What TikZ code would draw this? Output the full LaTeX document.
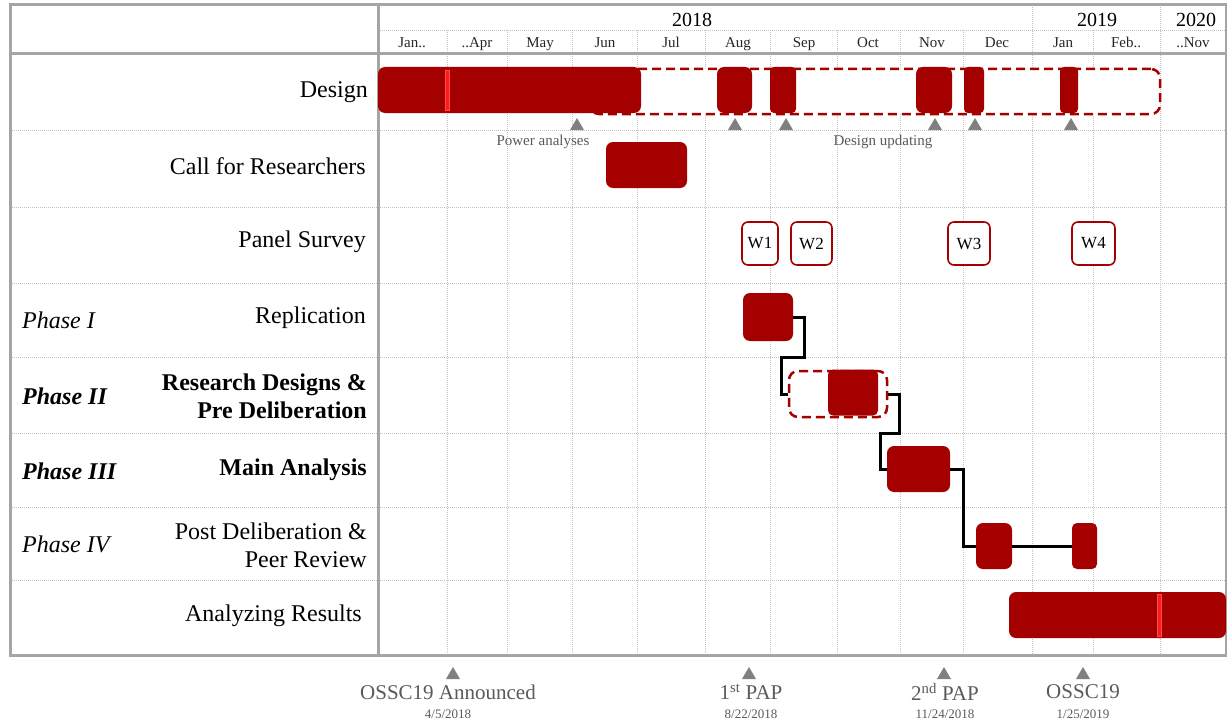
\documentclass[tikz,border=0pt]{standalone}
\usepackage{fontspec}
\setmainfont{Liberation Serif}
\usetikzlibrary{fit}
\definecolor{barred}{RGB}{165,0,0}
\definecolor{stripered}{RGB}{255,25,25}
\definecolor{framegray}{RGB}{165,165,165}
\definecolor{gridgray}{RGB}{195,195,195}
\definecolor{markgray}{RGB}{128,128,128}
\definecolor{notegray}{RGB}{90,90,90}
\newcommand\mtri[2]{\fill[markgray] (#1-7,#2) -- (#1+7,#2) -- (#1,#2-12) -- cycle;}
\begin{document}
\begin{tikzpicture}[x=1pt,y=-1pt,
  solidbar/.style={fill=barred, draw=none, rounded corners=7pt, inner sep=0pt},
  dashbar/.style={draw=barred, line width=2.5pt, dash pattern=on 9pt off 5pt, rounded corners=9pt, fill=white, inner sep=0pt},
  wavebox/.style={draw=barred, line width=1.6pt, fill=white, rounded corners=6pt, inner sep=0pt, font=\fontsize{17}{17}\selectfont},
  conn/.style={line width=3pt, black},
  gridline/.style={gridgray, line width=0.8pt, dash pattern=on 1pt off 1pt},
  frameline/.style={framegray, line width=3pt},
  rowlab/.style={anchor=east, inner sep=0pt, align=right, font=\fontsize{24}{28}\selectfont},
  phaselab/.style={anchor=west, inner sep=0pt, font=\fontsize{24}{28}\selectfont\itshape},
  monthlab/.style={anchor=base, inner sep=0pt, font=\fontsize{15}{15}\selectfont, text=black!85},
  yearlab/.style={anchor=base, inner sep=0pt, font=\fontsize{20}{20}\selectfont},
  smallnote/.style={inner sep=0pt, font=\fontsize{15}{15}\selectfont, text=notegray},
  milelab/.style={inner sep=0pt, font=\fontsize{21}{21}\selectfont, text=notegray},
  datelab/.style={inner sep=0pt, font=\fontsize{13}{13}\selectfont, text=notegray},
  stripe/.style={fill=stripered, draw=red!70!white, line width=0.6pt}
]
\useasboundingbox (0,0) rectangle (1227,725);
\fill[white] (0,0) rectangle (1227,725);

% grid
\foreach \y in {130,207,283,357,433,507,580}
  \draw[gridline] (10,\y) -- (1226,\y);
\draw[gridline] (378,30) -- (1226,30);
\foreach \x in {447,507,572,637,705,770,837,900,963,1093}
  \draw[gridline] (\x,30) -- (\x,655);
\foreach \x in {1032,1160}
  \draw[gridline] (\x,5) -- (\x,655);

% frame
\draw[frameline] (10,5) rectangle (1226,655);
\draw[frameline] (10,54) -- (1226,54);
\draw[frameline] (378,5) -- (378,655);

% header
\node[yearlab] (y2018) at (692,27) {2018};
\node[yearlab] (y2019) at (1097,27) {2019};
\node[yearlab] (y2020) at (1196,27) {2020};
\node[monthlab] (m1) at (412,48) {Jan..};
\node[monthlab] (m2) at (477,48) {..Apr};
\node[monthlab] (m3) at (540,48) {May};
\node[monthlab] (m4) at (605,48) {Jun};
\node[monthlab] (m5) at (671,48) {Jul};
\node[monthlab] (m6) at (738,48) {Aug};
\node[monthlab] (m7) at (804,48) {Sep};
\node[monthlab] (m8) at (868,48) {Oct};
\node[monthlab] (m9) at (932,48) {Nov};
\node[monthlab] (m10) at (997,48) {Dec};
\node[monthlab] (m11) at (1063,48) {Jan};
\node[monthlab] (m12) at (1126,48) {Feb..};
\node[monthlab] (m13) at (1193,48) {..Nov};

% row labels
\node[rowlab] (lDesign) at (368,92) {Design};
\node[rowlab] (lCall) at (366,166) {Call for Researchers};
\node[rowlab] (lPanel) at (366,242) {Panel Survey};
\node[rowlab] (lRep) at (366,318) {Replication};
\node[rowlab, font=\fontsize{24}{28}\selectfont\bfseries] (lRD) at (367,396) {Research Designs \&\\Pre Deliberation};
\node[rowlab, font=\fontsize{24}{28}\selectfont\bfseries] (lMain) at (367,470) {Main Analysis};
\node[rowlab] (lPost) at (367,545) {Post Deliberation \&\\Peer Review};
\node[rowlab] (lAna) at (362,616) {Analyzing Results};
\node[phaselab] (p1) at (22,320) {Phase I};
\node[phaselab, font=\fontsize{24}{28}\selectfont\itshape\bfseries] (p2) at (22,396) {Phase II};
\node[phaselab, font=\fontsize{24}{28}\selectfont\itshape\bfseries] (p3) at (22,471) {Phase III};
\node[phaselab] (p4) at (22,544) {Phase IV};

% Design row
\node[dashbar, fit={(590,69) (1160,114)}] (dDash) {};
\node[solidbar, fit={(378,67) (641,113)}] (d1) {};
\draw[stripe] (445,70) rectangle (449,110);
\node[solidbar, fit={(717,67) (752,113)}] (d2) {};
\node[solidbar, rounded corners=4pt, fit={(770,67) (796,113)}] (d3) {};
\node[solidbar, fit={(916,67) (952,113)}] (d4) {};
\node[solidbar, rounded corners=4pt, fit={(964,67) (984,113)}] (d5) {};
\node[solidbar, rounded corners=4pt, fit={(1060,67) (1078,113)}] (d6) {};
\mtri{577}{130}
\mtri{735}{130}
\mtri{786}{130}
\mtri{935}{130}
\mtri{975}{130}
\mtri{1071}{130}
\node[smallnote] (nPower) at (543,142) {Power analyses};
\node[smallnote] (nUpd) at (883,142) {Design updating};

% Call for researchers
\node[solidbar, fit={(606,142) (687,188)}] (call) {};

% Panel survey
\node[wavebox, fit={(742,222) (778,265)}] (w1) {};
\node at (w1.center) {\fontsize{17}{17}\selectfont W1};
\node[wavebox, fit={(791,222) (832,265)}] (w2) {};
\node at (w2.center) {\fontsize{17}{17}\selectfont W2};
\node[wavebox, fit={(948,222) (990,265)}] (w3) {};
\node at (w3.center) {\fontsize{17}{17}\selectfont W3};
\node[wavebox, fit={(1072,222) (1115,265)}] (w4) {};
\node at (w4.center) {\fontsize{17}{17}\selectfont W4};

% Phases
\node[solidbar, fit={(743,293) (793,341)}] (rep) {};
\node[dashbar, fit={(789,371) (887,417)}] (rdDash) {};
\node[solidbar, rounded corners=5pt, fit={(828,369.5) (878,415.5)}] (rd) {};
\node[solidbar, fit={(887,446) (950,492)}] (main) {};
\node[solidbar, fit={(976,523) (1012,569)}] (pd1) {};
\node[solidbar, rounded corners=5pt, fit={(1072,523) (1097,569)}] (pd2) {};
\node[solidbar, fit={(1009,592) (1226,638)}] (ana) {};
\draw[stripe] (1157,594) rectangle (1161,636);

\draw[conn] (rep.east) -| (804,357) -| (781,394) -- (rdDash.west);
\draw[conn] (rdDash.east) -| (899,433) -| (880,469) -- (main.west);
\draw[conn] (main.east) -| (963,546) -- (pd1.west);
\draw[conn] (pd1.east) -- (pd2.west);

% milestones
\mtri{453}{679}
\mtri{749}{679}
\mtri{944}{679}
\mtri{1083}{679}
\node[milelab] (ms1) at (448,692) {OSSC19 Announced};
\node[datelab] (ds1) at (448,714) {4/5/2018};
\node[milelab] (ms2) at (751,692) {1\textsuperscript{st} PAP};
\node[datelab] (ds2) at (751,714) {8/22/2018};
\node[milelab] (ms3) at (945,692) {2\textsuperscript{nd} PAP};
\node[datelab] (ds3) at (945,714) {11/24/2018};
\node[milelab] (ms4) at (1083,692) {OSSC19};
\node[datelab] (ds4) at (1083,714) {1/25/2019};
\end{tikzpicture}
\end{document}
